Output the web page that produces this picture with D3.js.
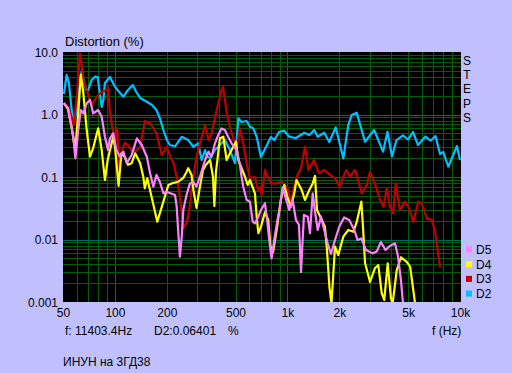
<!DOCTYPE html>
<html>
<head>
<meta charset="utf-8">
<script src="https://cdn.jsdelivr.net/npm/d3@7"></script>
<style>
body{margin:0;background:#c0c0ff;}
svg{display:block;}
text{font-family:"Liberation Sans",Arial,sans-serif;fill:#000;}
</style>
</head>
<body>
<svg id="chart"></svg>
<script>
// frequency (Hz), distortion (%)
var d2Data=[[50.6,2.13],[52.5,4.29],[54.1,3.2],[56.1,1.18],[57.8,0.76],[60.2,1.18],[62.7,3.57],[64.4,5.15],[66.2,3.31],[67.9,2.47],[70,2.47],[73.3,3.57],[76.6,4.03],[79.4,3.98],[82,2.05],[83.8,1.32],[85.7,1.71],[87.5,3.2],[93.6,3.98],[100,2.79],[107,2.21],[112,1.93],[119,2.47],[127,2.97],[132,2.38],[140,1.84],[153,1.6],[164,1.42],[174,1.18],[182,0.88],[191,0.565],[200,0.39],[208,0.325],[223,0.31],[244,0.44],[266,0.39],[285,0.305],[304,0.346],[318,0.187],[333,0.27],[340,0.217],[356,0.2],[380,0.27],[406,0.325],[434,0.39],[464,0.27],[496,0.167],[519,0.869],[542,0.759],[580,0.787],[606,0.638],[633,0.601],[663,0.441],[702,0.209],[751,0.302],[802,0.436],[839,0.39],[896,0.53],[958,0.55],[1024,0.441],[1120,0.42],[1251,0.51],[1338,0.47],[1430,0.565],[1497,0.44],[1634,0.51],[1747,0.363],[1903,0.623],[2107,0.199],[2252,0.679],[2357,0.98],[2520,1.07],[2815,0.367],[3180,0.565],[3580,0.254],[3800,0.53],[4035,0.213],[4285,0.39],[4675,0.462],[5000,0.398],[5340,0.525],[5710,0.325],[6310,0.445],[6750,0.381],[7210,0.453],[7660,0.233],[8000,0.251],[8550,0.146],[9600,0.313],[10000,0.187]];

var d3Data=[[50.6,1.52],[53.4,1.32],[56.1,0.91],[57.8,0.68],[60.2,2.05],[62.7,9.46],[63.9,6.92],[65.6,3.57],[68.6,2.47],[73.3,1.42],[76.6,1.71],[80,2.05],[84.1,2.29],[89.5,2.47],[91.4,2.66],[93.6,1.05],[97.7,0.53],[101,0.39],[103,0.608],[106,0.139],[110,0.27],[114,0.35],[119,0.325],[127,0.251],[134,0.27],[140,0.305],[149,0.787],[160,0.723],[174,0.506],[187,0.225],[199,0.302],[211,0.2],[218,0.174],[228,0.1],[238,0.0485],[249,0.0152],[260,0.0184],[270,0.0297],[278,0.062],[285,0.1],[297,0.209],[311,0.346],[333,0.679],[349,0.39],[363,0.5],[389,1.18],[415,2.47],[423,2.75],[444,1.1],[464,0.631],[485,0.42],[508,0.305],[530,0.6],[554,0.346],[580,0.166],[606,0.0953],[648,0.1],[675,0.062],[693,0.0692],[709,0.0515],[741,0.13],[774,0.0964],[809,0.079],[867,0.079],[929,0.084],[967,0.0745],[1011,0.062],[1034,0.0357],[1080,0.062],[1130,0.1],[1200,0.139],[1263,0.305],[1323,0.13],[1425,0.187],[1523,0.114],[1634,0.13],[1763,0.108],[1886,0.0953],[2010,0.07],[2107,0.101],[2200,0.13],[2300,0.101],[2460,0.13],[2570,0.0895],[2690,0.0548],[2880,0.0745],[3010,0.121],[3210,0.079],[3440,0.0429],[3600,0.0335],[3760,0.066],[3930,0.0335],[4100,0.0263],[4240,0.079],[4490,0.0297],[4800,0.0403],[5020,0.0335],[5360,0.0193],[5730,0.0403],[6000,0.038],[6420,0.0218],[6860,0.0205],[7170,0.0133],[7360,0.0082],[7660,0.0036]];

var d4Data=[[50.6,1.52],[53.4,1.22],[56.1,0.64],[58.8,0.27],[61.3,1.04],[63.4,4.29],[65.6,2.21],[68.6,0.565],[71.7,0.211],[74.8,0.291],[80,0.601],[83.8,0.27],[87.5,0.0895],[90.8,0.187],[97.7,0.441],[100,0.305],[103,0.13],[105,0.0718],[109,0.239],[114,0.211],[119,0.157],[125,0.166],[131,0.239],[140,0.166],[146,0.101],[149,0.066],[154,0.0953],[163,0.0485],[176,0.0193],[187,0.0335],[204,0.0745],[213,0.079],[233,0.084],[249,0.0964],[260,0.12],[266,0.138],[278,0.108],[285,0.062],[297,0.032],[311,0.07],[324,0.13],[337,0.157],[356,0.187],[370,0.101],[377,0.0344],[385,0.12],[406,0.416],[425,0.441],[444,0.187],[464,0.239],[485,0.305],[503,0.367],[519,0.187],[542,0.138],[567,0.101],[588,0.0745],[606,0.0895],[648,0.0548],[663,0.0232],[678,0.0126],[702,0.016],[741,0.0275],[774,0.0205],[797,0.0077],[826,0.0063],[875,0.0171],[914,0.0429],[958,0.0745],[1003,0.0457],[1048,0.0335],[1095,0.0548],[1128,0.0895],[1209,0.062],[1263,0.0429],[1338,0.062],[1400,0.079],[1444,0.104],[1483,0.0297],[1565,0.0218],[1649,0.016],[1694,0.0068],[1752,0.0017],[1800,0.00095],[1886,0.0077],[1970,0.00565],[2107,0.0111],[2252,0.0142],[2410,0.0133],[2520,0.0191],[2680,0.0403],[2740,0.016],[2815,0.0042],[3010,0.0021],[3210,0.00346],[3360,0.0039],[3520,0.00138],[3640,0.00108],[3810,0.00416],[3980,0.00114],[4070,0.00095],[4300,0.00325],[4550,0.0052],[4910,0.0044],[5140,0.00367],[5360,0.00156],[5490,0.00095]];

var d5Data=[[50.6,1.52],[53.6,1.26],[54.9,0.82],[57.3,0.441],[59,0.199],[61.3,0.565],[63.4,1.18],[65.6,1.04],[68.6,1.51],[71.7,1.71],[74.8,1.04],[80,1.18],[83.8,0.922],[87.5,0.441],[91.1,0.27],[93.6,0.416],[97.7,0.5],[102,0.27],[107,0.211],[112,0.254],[117,0.166],[125,0.225],[134,0.416],[143,0.325],[153,0.211],[160,0.114],[167,0.07],[174,0.108],[182,0.084],[191,0.0548],[199,0.0582],[223,0.0515],[228,0.0335],[233,0.0126],[238,0.0053],[244,0.0111],[249,0.0297],[260,0.0515],[272,0.079],[285,0.084],[297,0.07],[311,0.101],[333,0.187],[349,0.254],[363,0.211],[380,0.346],[397,0.47],[415,0.6],[434,0.565],[453,0.441],[474,0.346],[508,0.27],[530,0.157],[542,0.101],[554,0.07],[580,0.0429],[606,0.0403],[629,0.0193],[648,0.0182],[678,0.0232],[702,0.0297],[741,0.038],[764,0.0193],[792,0.0076],[809,0.005],[841,0.0105],[875,0.0205],[908,0.0344],[938,0.0692],[972,0.0479],[1024,0.0297],[1072,0.0429],[1120,0.0205],[1166,0.0171],[1198,0.003],[1246,0.0247],[1310,0.0232],[1351,0.0126],[1400,0.0548],[1449,0.0263],[1497,0.0142],[1565,0.0232],[1634,0.0142],[1710,0.0087],[1787,0.0059],[1886,0.0098],[1995,0.016],[2130,0.0225],[2280,0.0205],[2440,0.0142],[2550,0.0098],[2680,0.0104],[2850,0.0068],[3120,0.006],[3290,0.0064],[3480,0.0091],[3700,0.0068],[3930,0.0079],[4200,0.0087],[4370,0.0054],[4550,0.0022],[4675,0.00095]];

var seriesNames=["D5","D4","D3","D2"];
var seriesColors=["#ff80ff","#ffff00","#c00000","#00c0ff"];
var seriesData=[d5Data,d4Data,d3Data,d2Data];

var xTicks=[50,100,200,500,1000,2000,5000,10000];
var xTickLabels=["50","100","200","500","1k","2k","5k","10k"];
var yTicks=[0.001,0.01,0.1,1,10];
var yTickLabels=["0.001","0.01","0.1","1.0","10.0"];

var screen={width:512,height:373};
var plot={left:63,right:461,top:52,bottom:302};

var svg=d3.select("#chart")
          .attr("width",screen.width)
          .attr("height",screen.height);

var x=d3.scaleLog().domain([50,10000]).range([plot.left,plot.right-1]);
var y=d3.scaleLog().domain([0.001,10]).range([plot.bottom,plot.top]);

svg.append("rect")
   .attr("x",plot.left).attr("y",plot.top)
   .attr("width",plot.right-plot.left)
   .attr("height",plot.bottom-plot.top)
   .attr("fill","#000");

// grid values 1..9 per decade
var xGrid=[],yGrid=[];
[10,100,1000].forEach(function(dec){
  for(var k=1;k<10;k++){ var v=dec*k; if(v>=50&&v<=10000) xGrid.push(v); }
});
xGrid.push(10000);
[0.001,0.01,0.1,1].forEach(function(dec){
  for(var k=1;k<10;k++) yGrid.push(dec*k);
});
yGrid.push(10);
var isDecade=function(v){ return Math.abs(Math.log10(v)-Math.round(Math.log10(v)))<1e-6; };

var grid=svg.append("g").attr("shape-rendering","crispEdges");
grid.selectAll("line.gx")
    .data(xGrid.filter(function(v){return v>50&&v<10000;}))
    .enter().append("line")
    .attr("x1",function(d){return Math.round(x(d))+0.5;})
    .attr("x2",function(d){return Math.round(x(d))+0.5;})
    .attr("y1",plot.top).attr("y2",plot.bottom)
    .attr("stroke",function(d){return isDecade(d)?"#006a62":"#006000";});
grid.selectAll("line.gy")
    .data(yGrid.filter(function(v){return v>0.001&&v<10;}))
    .enter().append("line")
    .attr("y1",function(d){return Math.round(y(d))+0.5;})
    .attr("y2",function(d){return Math.round(y(d))+0.5;})
    .attr("x1",plot.left).attr("x2",plot.right)
    .attr("stroke",function(d){return isDecade(d)?"#006a62":"#006000";});

svg.append("clipPath").attr("id","clip")
   .append("rect")
   .attr("x",plot.left).attr("y",plot.top)
   .attr("width",plot.right-plot.left)
   .attr("height",plot.bottom-plot.top);

var lineGen=d3.line()
              .x(function(d){return x(d[0]);})
              .y(function(d){return y(d[1]);});

// D2 first, D5 on top
svg.append("g").attr("clip-path","url(#clip)")
   .selectAll("path")
   .data([3,2,1,0])
   .enter().append("path")
   .attr("d",function(i){return lineGen(seriesData[i]);})
   .attr("fill","none")
   .attr("stroke",function(i){return seriesColors[i];})
   .attr("stroke-width",2.2)
   .attr("stroke-linejoin","round");

// axes labels
var xAxis=d3.axisBottom(x)
            .tickValues(xTicks)
            .tickFormat(function(d,i){return xTickLabels[i];})
            .tickSize(0).tickPadding(0);
svg.append("g")
   .attr("transform","translate(0,"+(plot.bottom+6)+")")
   .call(xAxis)
   .call(function(g){g.select(".domain").remove();})
   .selectAll("text")
   .attr("dy","0.71em")
   .style("font-size","12px")
   .style("font-family","'Liberation Sans',Arial,sans-serif")
   .attr("fill","#000");

var yAxis=d3.axisLeft(y)
            .tickValues(yTicks)
            .tickFormat(function(d,i){return yTickLabels[i];})
            .tickSize(0).tickPadding(0);
svg.append("g")
   .attr("transform","translate("+(plot.left-5)+",0)")
   .call(yAxis)
   .call(function(g){g.select(".domain").remove();})
   .selectAll("text")
   .attr("dy","0.36em")
   .style("font-size","12px")
   .style("font-family","'Liberation Sans',Arial,sans-serif")
   .attr("fill","#000");

svg.append("text").attr("x",65).attr("y",46)
   .style("font-size","13px").text("Distortion (%)");

// vertical STEPS label, one letter per row
svg.append("g").selectAll("text")
   .data("STEPS".split(""))
   .enter().append("text")
   .attr("x",467)
   .attr("y",function(d,i){return 65+i*14.2;})
   .attr("text-anchor","middle")
   .style("font-size","12px")
   .text(function(d){return d;});

// legend
var legend=svg.append("g").selectAll("g")
              .data(seriesNames)
              .enter().append("g")
              .attr("transform",function(d,i){return "translate(466,"+(254+i*14.7)+")";});
legend.append("rect")
      .attr("x",0).attr("y",-7.5)
      .attr("width",6).attr("height",6)
      .attr("fill",function(d,i){return seriesColors[i];});
legend.append("text")
      .attr("x",10).attr("y",0)
      .style("font-size","12px")
      .text(function(d){return d;});

svg.append("text").attr("x",65).attr("y",335).style("font-size","12px").text("f: 11403.4Hz");
svg.append("text").attr("x",154).attr("y",335).style("font-size","12px").text("D2:0.06401");
svg.append("text").attr("x",228).attr("y",335).style("font-size","12px").text("%");
svg.append("text").attr("x",432).attr("y",335).style("font-size","12px").text("f (Hz)");
svg.append("text").attr("x",63).attr("y",366).style("font-size","12px").text("ИНУН на 3ГД38");
</script>
</body>
</html>
